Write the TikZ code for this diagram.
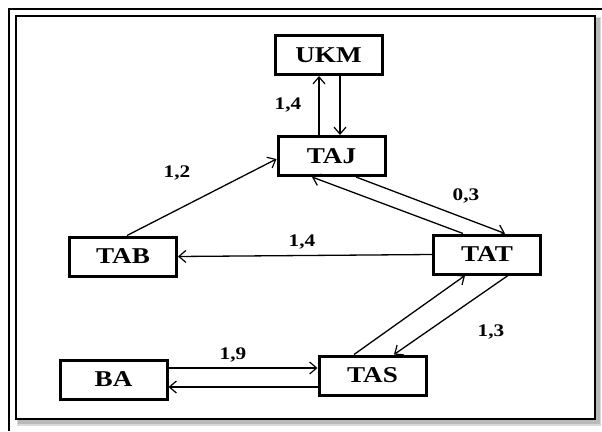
\documentclass[tikz,border=0pt]{standalone}
\usepackage{fontspec}
\setmainfont{Liberation Serif}[FakeStretch=1.2]
\usetikzlibrary{arrows.meta}
\begin{document}
\begin{tikzpicture}[x=1pt,y=-1pt,
  box/.style={draw=black,line width=3pt,fill=white,minimum width=107pt,minimum height=39pt,inner sep=0pt,
    font=\fontsize{22.6}{26}\selectfont\bfseries},
  lab/.style={inner sep=0pt,font=\fontsize{17.7}{20}\selectfont\bfseries},
  arr/.style={line width=1.3pt,-{Straight Barb[length=7pt,width=12pt,line width=1.2pt]}}]
\useasboundingbox (0,0) rectangle (602,431);
% frames
\draw[line width=1.6pt] (9,431) -- (9,9) -- (602,9);
\fill[gray!55] (18,18) rectangle (600,424);
\fill[gray!30] (17,17) rectangle (601,425.5);
\fill[gray!55] (18,18) rectangle (599.5,423.5);
\draw[line width=1.8pt,fill=white] (16,16) rectangle (595,419);
% nodes
\node[box] (UKM) at (328.5,55) {UKM};
\node[box] (TAJ) at (331.5,156) {TAJ};
\node[box] (TAB) at (123,256.5) {TAB};
\node[box] (TAT) at (487,254.5) {TAT};
\node[box] (BA)  at (113.5,379.5) {BA};
\node[box] (TAS) at (372.5,375.5) {TAS};
% connectors
\draw[arr] ([xshift=-12.5pt]TAJ.north) -- ([xshift=-12.5pt]TAJ.north |- UKM.south);
\draw[arr] ([xshift=8.5pt]TAJ.north |- UKM.south) -- ([xshift=8.5pt]TAJ.north);
\draw[arr] ([xshift=4pt]TAB.north) -- ([yshift=-3pt]TAJ.west);
\draw[arr] ([xshift=24.5pt]TAJ.south) -- ([xshift=18pt]TAT.north);
\draw[arr] ([xshift=-24pt]TAT.north) -- ([xshift=-19.5pt]TAJ.south);
\draw[arr] (TAT.west) -- (TAB.east);
\draw[arr] ([xshift=-18.5pt]TAS.north) -- ([xshift=-22pt]TAT.south);
\draw[arr] ([xshift=21pt]TAT.south) -- ([xshift=21.5pt]TAS.north);
\draw[arr] ([yshift=11.5pt]BA.east) -- ([yshift=11.5pt]BA.east -| TAS.west);
\draw[arr] ([yshift=-7.5pt]BA.east -| TAS.west) -- ([yshift=-7.5pt]BA.east);
% labels
\node[lab] (l1) at (288,105) {1,4};
\node[lab] (l2) at (177,173) {1,2};
\node[lab] (l3) at (466,196) {0,3};
\node[lab] (l4) at (302,242) {1,4};
\node[lab] (l5) at (491,332) {1,3};
\node[lab] (l6) at (233,355) {1,9};
\end{tikzpicture}
\end{document}
